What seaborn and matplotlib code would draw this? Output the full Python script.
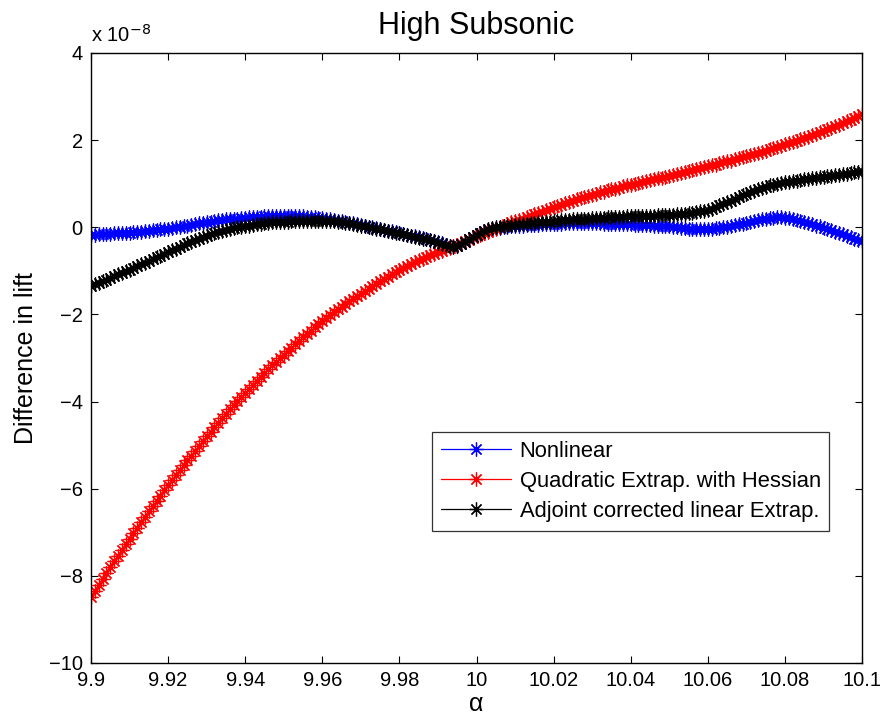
import numpy as np
import pandas as pd
import matplotlib
matplotlib.use('Agg')
import matplotlib.pyplot as plt
import seaborn as sns

# angle of attack grid (201 samples, step 0.001)
alpha = np.round(9.9 + 0.001 * np.arange(201), 3)

# difference in lift, in units of 1e-8
nonlinear = [
    -0.17, -0.17, -0.16, -0.16, -0.15, -0.15, -0.14, -0.14, -0.13, -0.13,
    -0.12, -0.11, -0.10, -0.10, -0.09, -0.08, -0.07, -0.06, -0.05, -0.04,
    -0.03, -0.02, 0.00, 0.01, 0.03, 0.04, 0.06, 0.07, 0.09, 0.10,
    0.12, 0.13, 0.14, 0.16, 0.17, 0.18, 0.19, 0.20, 0.20, 0.21,
    0.22, 0.23, 0.23, 0.24, 0.24, 0.25, 0.25, 0.25, 0.26, 0.26,
    0.26, 0.26, 0.26, 0.26, 0.25, 0.25, 0.24, 0.23, 0.23, 0.22,
    0.21, 0.20, 0.18, 0.17, 0.15, 0.14, 0.12, 0.10, 0.09, 0.07,
    0.05, 0.03, 0.01, 0.00, -0.02, -0.04, -0.06, -0.08, -0.09, -0.11,
    -0.13, -0.15, -0.17, -0.19, -0.21, -0.23, -0.25, -0.27, -0.29, -0.31,
    -0.34, -0.37, -0.40, -0.43, -0.44, -0.42, -0.38, -0.33, -0.27, -0.22,
    -0.17, -0.13, -0.09, -0.06, -0.04, -0.02, -0.01, 0.00, 0.01, 0.02,
    0.03, 0.04, 0.04, 0.05, 0.05, 0.06, 0.06, 0.07, 0.07, 0.08,
    0.08, 0.08, 0.08, 0.09, 0.09, 0.09, 0.09, 0.09, 0.09, 0.09,
    0.09, 0.09, 0.09, 0.08, 0.08, 0.08, 0.08, 0.07, 0.07, 0.07,
    0.07, 0.06, 0.06, 0.06, 0.05, 0.05, 0.04, 0.04, 0.03, 0.03,
    0.02, 0.01, 0.00, -0.01, -0.02, -0.03, -0.03, -0.04, -0.04, -0.04,
    -0.04, -0.03, -0.02, -0.01, 0.00, 0.01, 0.03, 0.05, 0.07, 0.08,
    0.10, 0.12, 0.14, 0.16, 0.18, 0.19, 0.21, 0.22, 0.23, 0.23,
    0.22, 0.21, 0.19, 0.17, 0.15, 0.13, 0.10, 0.07, 0.04, 0.02,
    -0.01, -0.04, -0.07, -0.10, -0.13, -0.16, -0.19, -0.22, -0.26, -0.29,
    -0.32,
]

quad_hessian = [
    -8.48, -8.34, -8.21, -8.07, -7.94, -7.80, -7.67, -7.54, -7.41, -7.28,
    -7.15, -7.02, -6.90, -6.77, -6.65, -6.52, -6.40, -6.28, -6.16, -6.04,
    -5.92, -5.81, -5.69, -5.58, -5.46, -5.35, -5.24, -5.13, -5.02, -4.91,
    -4.80, -4.70, -4.59, -4.49, -4.38, -4.28, -4.18, -4.09, -3.99, -3.90,
    -3.80, -3.71, -3.62, -3.52, -3.43, -3.34, -3.26, -3.17, -3.09, -3.00,
    -2.92, -2.84, -2.76, -2.68, -2.60, -2.52, -2.45, -2.37, -2.30, -2.22,
    -2.15, -2.08, -2.02, -1.95, -1.88, -1.82, -1.76, -1.70, -1.64, -1.58,
    -1.52, -1.46, -1.41, -1.35, -1.30, -1.24, -1.19, -1.14, -1.08, -1.03,
    -0.98, -0.94, -0.89, -0.85, -0.80, -0.76, -0.72, -0.68, -0.64, -0.61,
    -0.57, -0.54, -0.50, -0.47, -0.43, -0.40, -0.36, -0.32, -0.29, -0.25,
    -0.21, -0.17, -0.14, -0.10, -0.07, -0.03, 0.00, 0.04, 0.07, 0.11,
    0.14, 0.17, 0.20, 0.24, 0.27, 0.30, 0.33, 0.36, 0.40, 0.43,
    0.46, 0.49, 0.52, 0.55, 0.58, 0.61, 0.64, 0.67, 0.69, 0.72,
    0.75, 0.77, 0.80, 0.82, 0.85, 0.87, 0.89, 0.91, 0.94, 0.96,
    0.98, 1.00, 1.02, 1.04, 1.06, 1.08, 1.10, 1.12, 1.14, 1.16,
    1.18, 1.20, 1.22, 1.24, 1.27, 1.29, 1.31, 1.33, 1.36, 1.38,
    1.40, 1.42, 1.44, 1.47, 1.49, 1.51, 1.53, 1.56, 1.58, 1.61,
    1.63, 1.66, 1.68, 1.71, 1.73, 1.76, 1.79, 1.82, 1.84, 1.87,
    1.90, 1.93, 1.96, 1.99, 2.02, 2.05, 2.08, 2.11, 2.15, 2.18,
    2.21, 2.25, 2.28, 2.32, 2.35, 2.39, 2.43, 2.47, 2.51, 2.55,
    2.59,
]

adjoint_linear = [
    -1.35, -1.31, -1.27, -1.24, -1.20, -1.16, -1.12, -1.08, -1.05, -1.01,
    -0.97, -0.93, -0.89, -0.85, -0.81, -0.77, -0.73, -0.69, -0.65, -0.61,
    -0.57, -0.53, -0.49, -0.45, -0.41, -0.37, -0.33, -0.30, -0.26, -0.23,
    -0.19, -0.16, -0.13, -0.11, -0.08, -0.06, -0.04, -0.02, 0.00, 0.01,
    0.03, 0.04, 0.05, 0.07, 0.08, 0.09, 0.10, 0.11, 0.12, 0.12,
    0.13, 0.13, 0.14, 0.14, 0.15, 0.15, 0.15, 0.15, 0.15, 0.15,
    0.15, 0.15, 0.14, 0.14, 0.13, 0.12, 0.10, 0.09, 0.07, 0.06,
    0.04, 0.02, 0.00, -0.01, -0.03, -0.05, -0.07, -0.09, -0.10, -0.12,
    -0.14, -0.16, -0.18, -0.20, -0.22, -0.24, -0.26, -0.28, -0.30, -0.32,
    -0.35, -0.38, -0.41, -0.44, -0.45, -0.43, -0.39, -0.34, -0.28, -0.23,
    -0.17, -0.13, -0.09, -0.05, -0.02, 0.00, 0.01, 0.03, 0.04, 0.05,
    0.06, 0.07, 0.08, 0.08, 0.09, 0.10, 0.11, 0.12, 0.12, 0.13,
    0.14, 0.15, 0.16, 0.16, 0.17, 0.18, 0.19, 0.19, 0.20, 0.20,
    0.21, 0.21, 0.22, 0.22, 0.23, 0.23, 0.23, 0.24, 0.24, 0.25,
    0.25, 0.25, 0.26, 0.26, 0.27, 0.27, 0.27, 0.28, 0.28, 0.29,
    0.29, 0.29, 0.30, 0.31, 0.31, 0.32, 0.33, 0.35, 0.37, 0.38,
    0.40, 0.43, 0.47, 0.50, 0.54, 0.57, 0.61, 0.65, 0.69, 0.73,
    0.77, 0.81, 0.84, 0.87, 0.90, 0.93, 0.96, 0.98, 1.00, 1.02,
    1.03, 1.04, 1.06, 1.07, 1.09, 1.10, 1.11, 1.12, 1.14, 1.15,
    1.16, 1.17, 1.18, 1.20, 1.21, 1.22, 1.23, 1.25, 1.26, 1.28,
    1.29,
]

series_names = ['Nonlinear', 'Quadratic Extrap. with Hessian', 'Adjoint corrected linear Extrap.']
series_colors = ['#0000ff', '#ff0000', '#000000']
x_ticks = [9.9, 9.92, 9.94, 9.96, 9.98, 10.0, 10.02, 10.04, 10.06, 10.08, 10.1]
x_tick_labels = ['9.9', '9.92', '9.94', '9.96', '9.98', '10', '10.02', '10.04', '10.06', '10.08', '10.1']
y_ticks = [-10, -8, -6, -4, -2, 0, 2, 4]

df = pd.DataFrame({'alpha': alpha, series_names[0]: nonlinear,
                   series_names[1]: quad_hessian, series_names[2]: adjoint_linear})

sns.set_style('ticks')
plt.rcParams['font.family'] = ['Liberation Sans', 'DejaVu Sans']
plt.rcParams['text.color'] = 'black'
plt.rcParams['axes.labelcolor'] = 'black'
plt.rcParams['xtick.color'] = 'black'
plt.rcParams['ytick.color'] = 'black'

fig = plt.figure(figsize=(8.86, 7.26), dpi=100)
ax = fig.add_axes([0.1027, 0.0868, 0.8703, 0.8402])

star = (8, 2, 0)  # matlab style asterisk
for name, col in zip(series_names, series_colors):
    sns.lineplot(data=df, x='alpha', y=name, ax=ax, color=col, label=name,
                 estimator=None, sort=False, linewidth=0.7,
                 marker=star, markersize=10, markeredgewidth=0.9,
                 markeredgecolor=col, markerfacecolor=col)

ax.set_xlim(9.9, 10.1)
ax.set_ylim(-10, 4)
ax.set_xticks(x_ticks)
ax.set_xticklabels(x_tick_labels)
ax.set_yticks(y_ticks)
ax.tick_params(direction='in', top=True, right=True, length=5, width=0.8,
               labelsize=14.5, pad=6)
for sp in ax.spines.values():
    sp.set_linewidth(1.0)
    sp.set_color('black')

ax.set_xlabel('α', fontsize=18, labelpad=1)
ax.set_ylabel('Difference in lift', fontsize=18, labelpad=8)
ax.set_title('High Subsonic', fontsize=22, pad=14)
ax.text(0.0, 1.012, r'x 10$^{-8}$', transform=ax.transAxes, fontsize=14.5,
        ha='left', va='bottom')

leg = ax.legend(loc='upper left', bbox_to_anchor=(0.442, 0.379), fontsize=15.8,
                frameon=True, fancybox=False, handlelength=3.2, borderaxespad=0,
                borderpad=0.4, labelspacing=0.42, handletextpad=0.4)
leg.get_frame().set_edgecolor('black')
leg.get_frame().set_linewidth(0.9)
for h in leg.legend_handles:
    h.set_markevery([1])
    h.set_markersize(10)
    h.set_linewidth(0.9)

fig.savefig('out.png', dpi=100)
